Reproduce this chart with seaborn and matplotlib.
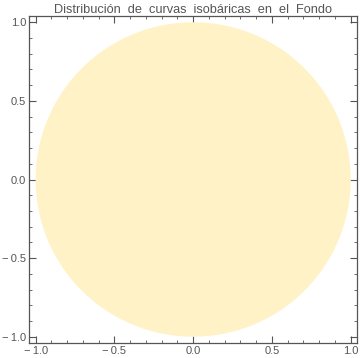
import numpy as np
import pandas as pd
import matplotlib
matplotlib.use("Agg")
import matplotlib.pyplot as plt
import seaborn as sns
from matplotlib.ticker import MultipleLocator

# Data
title = "Distribución  de  curvas  isobáricas  en  el  Fondo"
center_x = [0.0]
center_y = [0.0]
radius = [1.0]
major_ticks = [-1.0, -0.5, 0.0, 0.5, 1.0]
tick_labels = ["\u2212\u20091.0", "\u2212\u20090.5", "0.0", "0.5", "1.0"]

sns.set_theme(style="white")
plt.rcParams['font.family'] = ['Liberation Sans', 'DejaVu Sans']

fig = plt.figure(figsize=(3.6, 3.58), dpi=100)
ax = fig.add_axes([29/360, 15/358, 328/360, 327/358])

# Region boundary (disk) built from center and radius
t = np.linspace(0, 2*np.pi, 721)
df = pd.DataFrame({
    "x": center_x[0] + radius[0]*np.cos(t),
    "y": center_y[0] + radius[0]*np.sin(t),
    "t": t,
})
sns.lineplot(data=df, x="x", y="y", sort=False, estimator=None, lw=0, ax=ax, legend=False)
ax.fill(df["x"], df["y"], color="#FFF2C7", lw=0)

ax.set_xlim(-1.042, 1.04)
ax.set_ylim(-1.04, 1.04)
ax.set_xlabel("")
ax.set_ylabel("")

gray = "#555555"
for s in ax.spines.values():
    s.set_color(gray)
    s.set_linewidth(0.9)

ax.set_xticks(major_ticks)
ax.set_xticklabels(tick_labels)
ax.set_yticks(major_ticks)
ax.set_yticklabels(tick_labels)
ax.xaxis.set_minor_locator(MultipleLocator(0.1))
ax.yaxis.set_minor_locator(MultipleLocator(0.1))
ax.tick_params(which="both", direction="in", top=True, right=True,
               bottom=True, left=True, color=gray)
ax.tick_params(which="major", length=5, width=0.8, labelsize=8,
               labelcolor=gray, pad=2)
ax.tick_params(which="minor", length=2.5, width=0.6)

ax.set_title(title, fontsize=9.2, color=gray, pad=2)

fig.savefig("out.png", dpi=100)
